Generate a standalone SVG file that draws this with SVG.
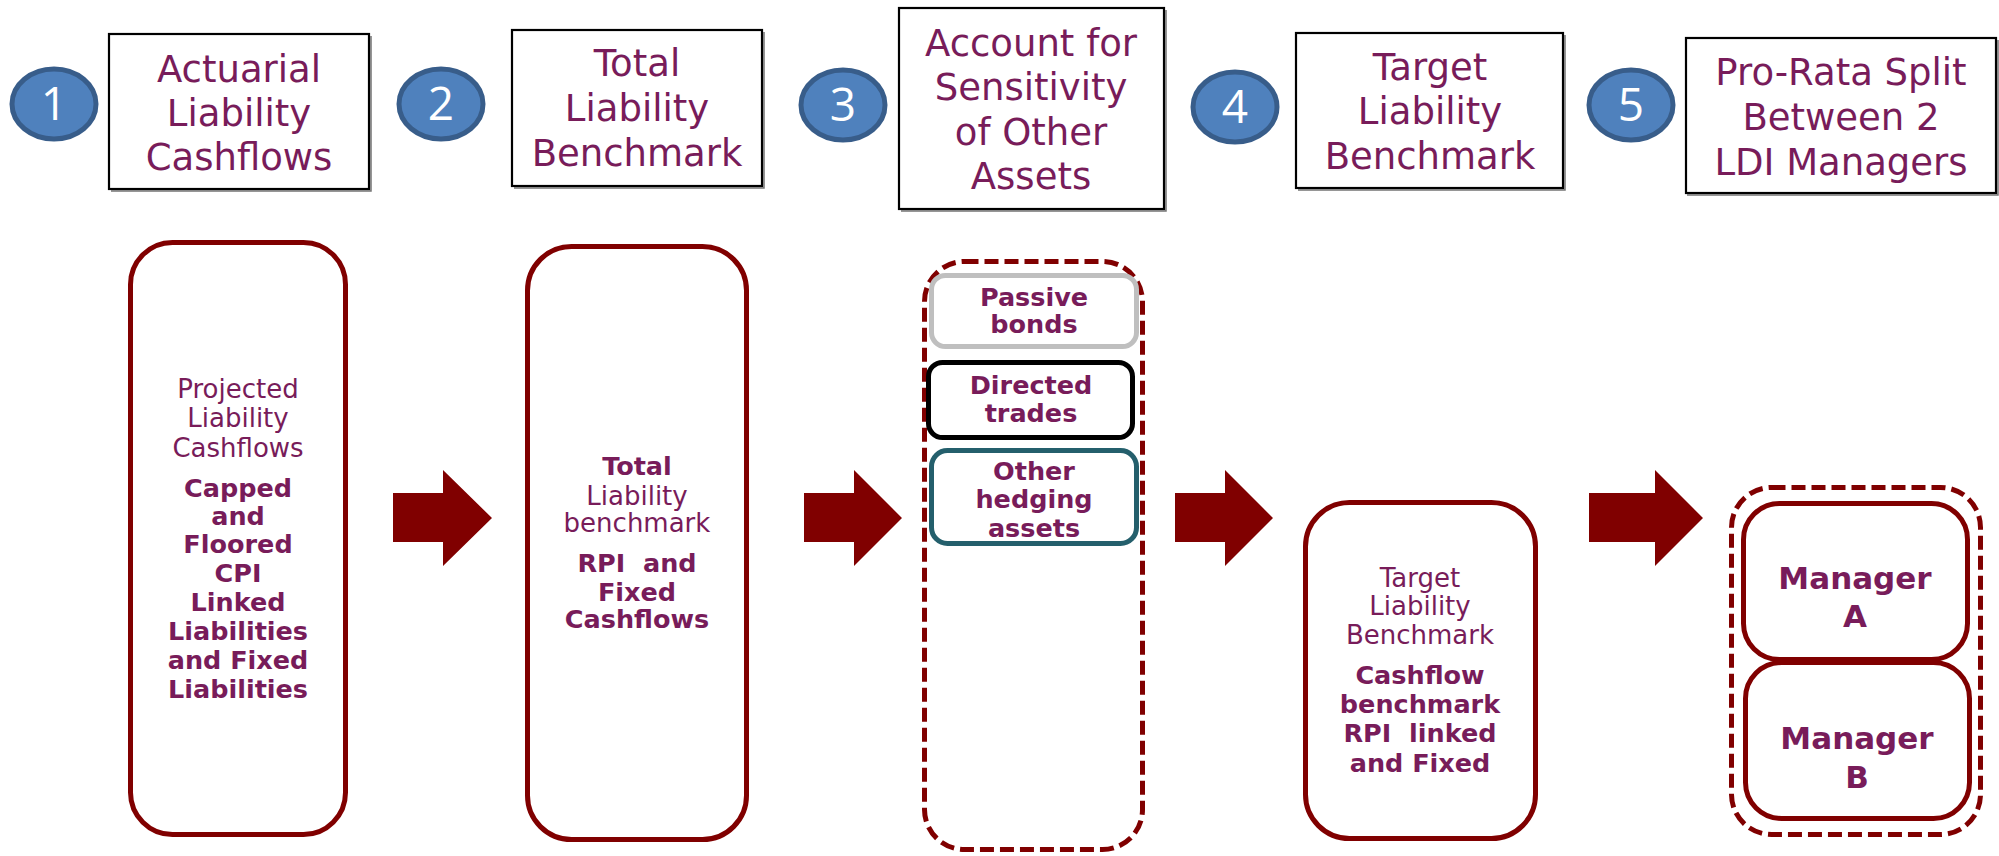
<svg xmlns="http://www.w3.org/2000/svg" width="1999" height="856" viewBox="0 0 1999 856">
  <style>
    .bg { fill: #ffffff; }
    .step { fill: #4F81BD; stroke: #385D8A; stroke-width: 5; }
    .num { font-family: "Open Sans", "DejaVu Sans", sans-serif; font-size: 46px; fill: #ffffff; text-anchor: middle; }
    .hbox { fill: #ffffff; stroke: #000000; stroke-width: 2.2; }
    .hshade { fill: none; stroke: #000000; stroke-width: 1.5; stroke-opacity: 0.55; }
    .htxt { font-family: "DejaVu Sans", "Liberation Sans", sans-serif; font-size: 37px; fill: #781C5A; text-anchor: middle; }
    .pane { fill: #ffffff; stroke: #800000; stroke-width: 5; }
    .dash { fill: none; stroke: #800000; stroke-width: 5; stroke-dasharray: 14 6; }
    .txt { font-family: "DejaVu Sans", "Liberation Sans", sans-serif; font-size: 26px; fill: #781C5A; text-anchor: middle; }
    .bold { font-weight: bold; font-size: 25.5px; }
    .mgr { font-weight: bold; font-size: 31px; }
    .arrow { fill: #800000; }
  </style>

  <rect class="bg" x="0" y="0" width="1999" height="856"/>

  <!-- step headers: numbered badge + titled box -->
  <g id="step1">
    <ellipse class="step" cx="54" cy="104" rx="42" ry="35"/>
    <text class="num" x="54" y="120">1</text>
    <polyline class="hshade" points="371,36 371,191 111,191"/>
    <rect class="hbox" x="109" y="34" width="260" height="155"/>
    <text class="htxt" x="239" y="82">Actuarial</text>
    <text class="htxt" x="239" y="126">Liability</text>
    <text class="htxt" x="239" y="170">Cashflows</text>
  </g>
  <g id="step2">
    <ellipse class="step" cx="441" cy="104" rx="42" ry="35"/>
    <text class="num" x="441" y="120">2</text>
    <polyline class="hshade" points="764,32 764,188 514,188"/>
    <rect class="hbox" x="512" y="30" width="250" height="156"/>
    <text class="htxt" x="637" y="76">Total</text>
    <text class="htxt" x="637" y="121">Liability</text>
    <text class="htxt" x="637" y="166">Benchmark</text>
  </g>
  <g id="step3">
    <ellipse class="step" cx="843" cy="105" rx="42" ry="35"/>
    <text class="num" x="843" y="121">3</text>
    <polyline class="hshade" points="1166,10 1166,211 901,211"/>
    <rect class="hbox" x="899" y="8" width="265" height="201"/>
    <text class="htxt" x="1031" y="56">Account for</text>
    <text class="htxt" x="1031" y="100">Sensitivity</text>
    <text class="htxt" x="1031" y="145">of Other</text>
    <text class="htxt" x="1031" y="189">Assets</text>
  </g>
  <g id="step4">
    <ellipse class="step" cx="1235" cy="107" rx="42" ry="35"/>
    <text class="num" x="1235" y="123">4</text>
    <polyline class="hshade" points="1565,35 1565,190 1298,190"/>
    <rect class="hbox" x="1296" y="33" width="267" height="155"/>
    <text class="htxt" x="1430" y="80">Target</text>
    <text class="htxt" x="1430" y="124">Liability</text>
    <text class="htxt" x="1430" y="169">Benchmark</text>
  </g>
  <g id="step5">
    <ellipse class="step" cx="1631" cy="105" rx="42" ry="35"/>
    <text class="num" x="1631" y="121">5</text>
    <polyline class="hshade" points="1998,40 1998,195 1687,195"/>
    <rect class="hbox" x="1686" y="38" width="310" height="155"/>
    <text class="htxt" x="1841" y="85">Pro-Rata Split</text>
    <text class="htxt" x="1841" y="130">Between 2</text>
    <text class="htxt" x="1841" y="175">LDI Managers</text>
  </g>

  <!-- stage panels -->
  <g id="actuarial-cashflows">
    <rect class="pane" x="130.5" y="242.5" width="215" height="592" rx="42"/>
    <text class="txt" x="238" y="398">Projected</text>
    <text class="txt" x="238" y="427">Liability</text>
    <text class="txt" x="238" y="457">Cashflows</text>
    <text class="txt bold" x="238" y="497">Capped</text>
    <text class="txt bold" x="238" y="525">and</text>
    <text class="txt bold" x="238" y="553">Floored</text>
    <text class="txt bold" x="238" y="582">CPI</text>
    <text class="txt bold" x="238" y="611">Linked</text>
    <text class="txt bold" x="238" y="640">Liabilities</text>
    <text class="txt bold" x="238" y="669">and Fixed</text>
    <text class="txt bold" x="238" y="698">Liabilities</text>
  </g>

  <g id="total-benchmark">
    <rect class="pane" x="527.5" y="246.5" width="219" height="593" rx="44"/>
    <text class="txt bold" x="637" y="475">Total</text>
    <text class="txt" x="637" y="505">Liability</text>
    <text class="txt" x="637" y="532">benchmark</text>
    <text class="txt bold" x="637" y="572" xml:space="preserve">RPI  and</text>
    <text class="txt bold" x="637" y="601">Fixed</text>
    <text class="txt bold" x="637" y="628">Cashflows</text>
  </g>

  <g id="other-assets">
    <rect class="dash" x="924.5" y="261.5" width="218" height="588" rx="40"/>
    <g id="passive-bonds">
      <rect x="931.5" y="275.5" width="205" height="71" rx="14" fill="#ffffff" stroke="#BFBFBF" stroke-width="5"/>
      <text class="txt bold" x="1034" y="306">Passive</text>
      <text class="txt bold" x="1034" y="333">bonds</text>
    </g>
    <g id="directed-trades">
      <rect x="928.5" y="362.5" width="204" height="75" rx="14" fill="#ffffff" stroke="#000000" stroke-width="5"/>
      <text class="txt bold" x="1031" y="394">Directed</text>
      <text class="txt bold" x="1031" y="422">trades</text>
    </g>
    <g id="other-hedging">
      <rect x="931.5" y="450.5" width="205" height="93" rx="16" fill="#ffffff" stroke="#245F6C" stroke-width="5"/>
      <text class="txt bold" x="1034" y="480">Other</text>
      <text class="txt bold" x="1034" y="508">hedging</text>
      <text class="txt bold" x="1034" y="537">assets</text>
    </g>
  </g>

  <g id="target-benchmark">
    <rect class="pane" x="1305.5" y="502.5" width="230" height="336" rx="44"/>
    <text class="txt" x="1420" y="587">Target</text>
    <text class="txt" x="1420" y="615">Liability</text>
    <text class="txt" x="1420" y="644">Benchmark</text>
    <text class="txt bold" x="1420" y="684">Cashflow</text>
    <text class="txt bold" x="1420" y="713">benchmark</text>
    <text class="txt bold" x="1420" y="742" xml:space="preserve">RPI  linked</text>
    <text class="txt bold" x="1420" y="772">and Fixed</text>
  </g>

  <g id="managers">
    <rect class="dash" x="1731.5" y="487.5" width="249" height="347" rx="40"/>
    <g id="manager-a">
      <rect class="pane" x="1743.5" y="503.5" width="224" height="156" rx="36"/>
      <text class="txt mgr" x="1855" y="589">Manager</text>
      <text class="txt mgr" x="1855" y="627">A</text>
    </g>
    <g id="manager-b">
      <rect class="pane" x="1745.5" y="662.5" width="224" height="156" rx="36"/>
      <text class="txt mgr" x="1857" y="749">Manager</text>
      <text class="txt mgr" x="1857" y="788">B</text>
    </g>
  </g>

  <!-- block arrows between stages -->
  <g id="connectors">
    <polygon class="arrow" points="393,493 443,493 443,470 492,518 443,566 443,542 393,542"/>
    <polygon class="arrow" points="804,493 854,493 854,470 902,518 854,566 854,542 804,542"/>
    <polygon class="arrow" points="1175,493 1225,493 1225,470 1273,518 1225,566 1225,542 1175,542"/>
    <polygon class="arrow" points="1589,493 1655,493 1655,470 1703,518 1655,566 1655,542 1589,542"/>
  </g>
</svg>
